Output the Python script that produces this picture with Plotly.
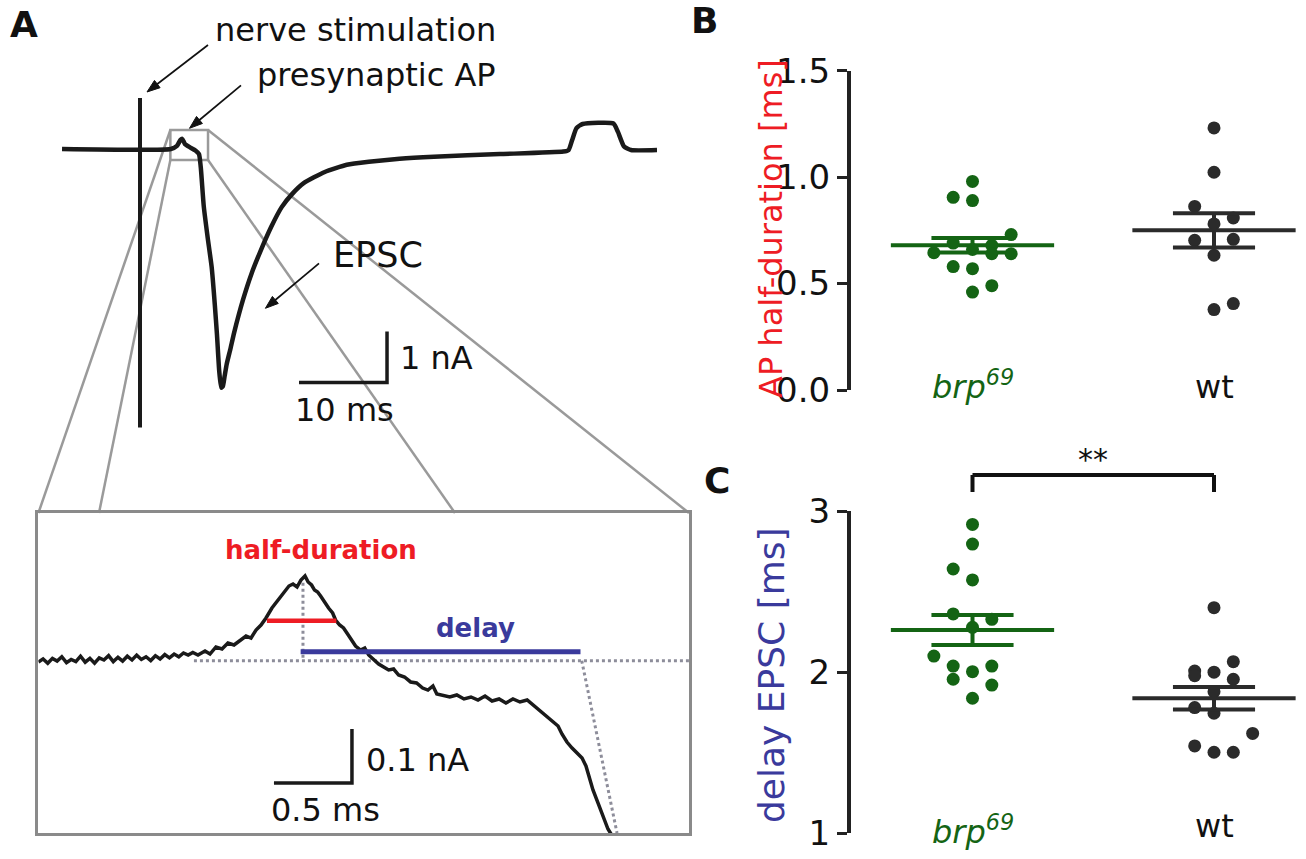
import math
import plotly.graph_objects as go

W, H = 1306, 859

# ---------------- Panel A: full recording (time in ms, current in nA) ----------------
a_t = [-8.86, 3.5, 4.2, 4.6, 4.8, 5.1, 5.6, 6.3, 6.7, 6.9, 7.25, 7.7, 8.14, 8.5, 8.75, 9.0,
       9.23, 9.42, 9.62, 9.85, 10.3, 10.7, 11.7, 12.7, 13.6, 14.9, 16.1, 17.3, 18.6, 21.0,
       23.5, 26.0, 29.5, 33.4, 40.9, 48.1, 48.7, 49.1, 49.6, 50.3, 53.8, 54.3, 55.0, 55.8, 58.75]
a_i = [0.0, 0.0, 0.06, 0.18, 0.20, 0.10, 0.04, -0.03, -0.10, -0.35, -1.13, -1.75, -2.31, -3.05, -3.65, -4.35,
       -4.68, -4.65, -4.45, -4.22, -3.90, -3.60, -2.96, -2.43, -2.04, -1.53, -1.14, -0.88, -0.67, -0.45,
       -0.31, -0.25, -0.19, -0.15, -0.10, -0.05, -0.02, 0.17, 0.41, 0.49, 0.50, 0.34, 0.05, -0.02, -0.02]
stim_t = [0.0, 0.0]
stim_i = [1.0, -5.46]
zoom_t = [3.45, 7.73]
zoom_i = [-0.216, 0.373]
scalebar_a = [10, 1]          # 10 ms, 1 nA

# ---------------- Inset: presynaptic AP (ms, nA) ----------------
ins_t = [0.00, 0.03, 0.06, 0.09, 0.12, 0.15, 0.18, 0.21, 0.24, 0.27, 0.30, 0.33, 0.36, 0.39, 0.42, 0.45,
         0.48, 0.51, 0.54, 0.57, 0.60, 0.63, 0.66, 0.69, 0.72, 0.75, 0.78, 0.81, 0.84, 0.87, 0.90, 0.93,
         0.96, 0.99,
         1.023, 1.068, 1.100, 1.138, 1.177, 1.215, 1.254, 1.292, 1.331, 1.363, 1.395, 1.427, 1.459, 1.497,
         1.536, 1.574, 1.606, 1.632, 1.658, 1.683, 1.709, 1.729, 1.751, 1.770, 1.790, 1.809, 1.835, 1.860,
         1.886, 1.905, 1.931, 1.956, 1.982, 2.008, 2.033, 2.065, 2.092, 2.117, 2.149, 2.181, 2.213, 2.245,
         2.277, 2.309, 2.347, 2.386, 2.424, 2.463, 2.497, 2.529, 2.554, 2.592, 2.637, 2.682, 2.728, 2.773,
         2.818, 2.863, 2.908, 2.953, 2.997, 3.042, 3.087, 3.133, 3.171, 3.203, 3.235, 3.267, 3.299, 3.331,
         3.356, 3.388, 3.421, 3.453, 3.485, 3.510, 3.530, 3.555, 3.587, 3.619, 3.651, 3.671]
ins_i = [-0.004, 0.002, -0.006, 0.003, -0.002, 0.006, -0.005, 0.001, -0.003, 0.007, -0.004, 0.003,
         -0.006, 0.004, 0.000, 0.008, -0.003, 0.005, -0.002, 0.007, 0.000, 0.009, 0.001, 0.006, -0.001,
         0.008, 0.002, 0.010, 0.004, 0.011, 0.006, 0.013, 0.009, 0.014,
         0.0093, 0.0167, 0.0111, 0.0241, 0.0204, 0.0315, 0.0278, 0.0370, 0.0444, 0.0407, 0.0556, 0.0648,
         0.0778, 0.0963, 0.1111, 0.1241, 0.1370, 0.1407, 0.1352, 0.1481, 0.1556, 0.1444, 0.1389, 0.1296,
         0.1259, 0.1185, 0.1056, 0.0963, 0.0870, 0.0741, 0.0648, 0.0593, 0.0481, 0.0370, 0.0259, 0.0185,
         0.0222, 0.0093, 0.0000, -0.0074, -0.0130, -0.0185, -0.0167, -0.0278, -0.0315, -0.0407, -0.0426,
         -0.0519, -0.0556, -0.0481, -0.0630, -0.0648, -0.0685, -0.0648, -0.0722, -0.0685, -0.0741, -0.0667,
         -0.0759, -0.0722, -0.0796, -0.0722, -0.0778, -0.0741, -0.0833, -0.0926, -0.1000, -0.1074, -0.1148,
         -0.1222, -0.1370, -0.1519, -0.1630, -0.1722, -0.1815, -0.1963, -0.2185, -0.2407, -0.2648, -0.2889,
         -0.3130, -0.3222]
baseline_level = -0.0013
ap_peak_t = 1.696
ap_peak_i = 0.143
half_duration = [1.465, 1.910, 0.0728]   # start, end, level
delay = [1.681, 3.475, 0.0154]           # start, end, level
epsc_onset = [3.483, 3.709, -0.3204]     # extrapolation line to bottom
scalebar_inset = [0.5, 0.1]              # 0.5 ms, 0.1 nA

# ---------------- Panel B: AP half-duration [ms] ----------------
groups = ["brp69", "wt"]
b_brp = [0.98, 0.905, 0.89, 0.73, 0.69, 0.68, 0.66, 0.645, 0.64, 0.64, 0.58, 0.57, 0.49, 0.46]
b_brp_col = [0, -1, 0, 2, -1, 1, 0, -2, 1, 2, -1, 0, 1, 0]
b_wt = [1.231, 1.023, 0.8625, 0.808, 0.78, 0.703, 0.708, 0.633, 0.406, 0.378]
b_wt_col = [0, 0, -1, 1, 0, -1, 1, 0, 1, 0]
b_mean = [0.68, 0.75]
b_sem = [0.034, 0.08]
b_ticks = [0.0, 0.5, 1.0, 1.5]

# ---------------- Panel C: delay EPSC [ms] ----------------
c_brp = [2.917, 2.795, 2.64, 2.572, 2.361, 2.328, 2.278, 2.10, 2.038, 2.038, 2.003, 1.956, 1.92, 1.838]
c_brp_col = [0, 0, -1, 0, -1, 1, 0, -2, -1, 1, 0, -1, 1, 0]
c_wt = [2.40, 2.065, 2.007, 1.978, 2.0, 1.956, 1.879, 1.78, 1.745, 1.62, 1.542, 1.503, 1.503]
c_wt_col = [0, 1, -1, -1, 0, 1, 0, -1, 0, 2, -1, 0, 1]
c_mean = [2.262, 1.838]
c_sem = [0.093, 0.07]
c_ticks = [1, 2, 3]
significance = "**"

# ---------------- styling ----------------
FONT = "DejaVu Sans"
GREEN = "#146414"
DARK = "#2b2b2b"
GRAY = "#9a9a9a"
DOTGRAY = "#8d8d9a"
RED = "#ee1c24"
BLUE = "#3a3a9c"

def dom_x(p0, p1):
    return [p0 / W, p1 / W]

def dom_y(top, bottom):
    return [1 - bottom / H, 1 - top / H]

def px(x):
    return x / W

def py(y):
    return 1 - y / H

A_X0, A_SX = 140.0, 8.8      # px at t=0, px per ms
A_Y0, A_SY = 149.0, 51.0     # px at I=0, px per nA
I_X0, I_SX = 38.4, 156.0
I_Y0, I_SY = 660.0, 540.0
JIT = 0.08
COLX = [972.5, 1214.0]
SX_BC = COLX[1] - COLX[0]

fig = go.Figure()

# --- Panel A traces
fig.add_trace(go.Scatter(x=stim_t, y=stim_i, mode="lines", line=dict(color="#1a1a1a", width=4),
                         xaxis="x", yaxis="y", hoverinfo="skip"))
fig.add_trace(go.Scatter(x=a_t, y=a_i, mode="lines", line=dict(color="#1a1a1a", width=4.5, shape="spline", smoothing=0.5),
                         xaxis="x", yaxis="y", hoverinfo="skip"))
sb_corner = (28.07, -4.58)
fig.add_trace(go.Scatter(x=[sb_corner[0] - scalebar_a[0], sb_corner[0], sb_corner[0]],
                         y=[sb_corner[1], sb_corner[1], sb_corner[1] + scalebar_a[1]],
                         mode="lines", line=dict(color="#1a1a1a", width=3.5), xaxis="x", yaxis="y", hoverinfo="skip"))

# --- Inset traces
t_end = 4.1705
fig.add_trace(go.Scatter(x=[0.997, t_end, None, ap_peak_t, ap_peak_t, None, epsc_onset[0], epsc_onset[1]],
                         y=[baseline_level, baseline_level, None, ap_peak_i, baseline_level, None, baseline_level, epsc_onset[2]],
                         mode="lines", line=dict(color=DOTGRAY, width=3, dash="dot"), xaxis="x2", yaxis="y2", hoverinfo="skip"))
fig.add_trace(go.Scatter(x=ins_t, y=ins_i, mode="lines", line=dict(color="#1a1a1a", width=3.5),
                         xaxis="x2", yaxis="y2", hoverinfo="skip"))
fig.add_trace(go.Scatter(x=half_duration[:2], y=[half_duration[2]] * 2, mode="lines",
                         line=dict(color=RED, width=4.5), xaxis="x2", yaxis="y2", hoverinfo="skip"))
fig.add_trace(go.Scatter(x=delay[:2], y=[delay[2]] * 2, mode="lines",
                         line=dict(color=BLUE, width=5), xaxis="x2", yaxis="y2", hoverinfo="skip"))
sbi = (2.010, -0.228)
fig.add_trace(go.Scatter(x=[sbi[0] - scalebar_inset[0], sbi[0], sbi[0]],
                         y=[sbi[1], sbi[1], sbi[1] + scalebar_inset[1]],
                         mode="lines", line=dict(color="#1a1a1a", width=3.5), xaxis="x2", yaxis="y2", hoverinfo="skip"))

# --- Scatter panels
def add_group(vals, cols, g, color, mean, sem, xa, ya):
    fig.add_trace(go.Scatter(x=[g + c * JIT for c in cols], y=vals, mode="markers",
                             marker=dict(size=13, color=color), xaxis=xa, yaxis=ya, hoverinfo="skip"))
    hw, sw = 0.338, 0.17
    fig.add_trace(go.Scatter(
        x=[g - hw, g + hw, None, g - sw, g + sw, None, g - sw, g + sw, None, g, g],
        y=[mean, mean, None, mean + sem, mean + sem, None, mean - sem, mean - sem, None, mean - sem, mean + sem],
        mode="lines", line=dict(color=color, width=4), xaxis=xa, yaxis=ya, hoverinfo="skip"))

add_group(b_brp, b_brp_col, 0, GREEN, b_mean[0], b_sem[0], "x3", "y3")
add_group(b_wt, b_wt_col, 1, DARK, b_mean[1], b_sem[1], "x3", "y3")
add_group(c_brp, c_brp_col, 0, GREEN, c_mean[0], c_sem[0], "x4", "y4")
add_group(c_wt, c_wt_col, 1, DARK, c_mean[1], c_sem[1], "x4", "y4")

hidden = dict(visible=False, showticklabels=False, ticks="", showline=False, showgrid=False, zeroline=False,
              fixedrange=True, automargin=False)
xr_bc = [(851 - COLX[0]) / SX_BC, (1300 - COLX[0]) / SX_BC]
yax_common = dict(showline=True, linecolor="#222222", linewidth=4, ticks="outside", ticklen=10, tickwidth=3,
                  tickcolor="#222222", showgrid=False, zeroline=False, automargin=False, fixedrange=True,
                  tickfont=dict(family=FONT, size=34, color="#111111"))
inset_ax = dict(showline=True, mirror=True, linecolor="#8a8a8a", linewidth=3, showticklabels=False, ticks="",
                showgrid=False, zeroline=False, fixedrange=True, automargin=False)

fig.update_layout(
    template="none",
    width=W, height=H, autosize=False,
    margin=dict(l=0, r=0, t=0, b=0, pad=0, autoexpand=False),
    paper_bgcolor="white", plot_bgcolor="rgba(0,0,0,0)",
    showlegend=False,
    xaxis=dict(domain=dom_x(40, 680), range=[(40 - A_X0) / A_SX, (680 - A_X0) / A_SX], **hidden),
    yaxis=dict(domain=dom_y(80, 440), range=[(A_Y0 - 440) / A_SY, (A_Y0 - 80) / A_SY], **hidden),
    xaxis2=dict(domain=dom_x(38.4, 689), range=[0, t_end], anchor="y2", **inset_ax),
    yaxis2=dict(domain=dom_y(513, 833), range=[(I_Y0 - 833) / I_SY, (I_Y0 - 513) / I_SY], anchor="x2", **inset_ax),
    xaxis3=dict(domain=dom_x(851, 1300), range=xr_bc, anchor="y3", **hidden),
    yaxis3=dict(domain=dom_y(70.7, 390), range=[0, 1.5], anchor="x3",
                tickvals=b_ticks, ticktext=["%.1f" % v for v in b_ticks], **yax_common),
    xaxis4=dict(domain=dom_x(851, 1300), range=xr_bc, anchor="y4", **hidden),
    yaxis4=dict(domain=dom_y(511, 833.3), range=[1, 3], anchor="x4",
                tickvals=c_ticks, ticktext=[str(v) for v in c_ticks], **yax_common),
)

# --- shapes: zoom window and projection lines
shapes = [dict(type="rect", xref="x", yref="y", x0=zoom_t[0], x1=zoom_t[1], y0=zoom_i[0], y1=zoom_i[1],
               line=dict(color=GRAY, width=2.5), layer="below")]
bl = (A_X0 + zoom_t[0] * A_SX, A_Y0 - zoom_i[0] * A_SY)
br = (A_X0 + zoom_t[1] * A_SX, A_Y0 - zoom_i[0] * A_SY)
tl = (A_X0 + zoom_t[0] * A_SX, A_Y0 - zoom_i[1] * A_SY)
tr = (A_X0 + zoom_t[1] * A_SX, A_Y0 - zoom_i[1] * A_SY)
for (sx, sy), ex in [(tl, 38.4), (bl, 99), (br, 455), (tr, 689)]:
    shapes.append(dict(type="line", xref="paper", yref="paper", x0=px(sx), y0=py(sy), x1=px(ex), y1=py(513),
                       line=dict(color=GRAY, width=2.5), layer="below"))
br_top, br_bot = py(475), py(492)
for x0, x1, y0, y1 in [(0, 0, br_bot, br_top), (0, 1, br_top, br_top), (1, 1, br_top, br_bot)]:
    shapes.append(dict(type="line", xref="x4", yref="paper", x0=x0, x1=x1, y0=y0, y1=y1,
                       line=dict(color="#111111", width=4)))

# pointer arrows (line + filled head), given as head / tail positions in pixels
for (hx, hy), (tx, ty) in [((147, 92), (208, 45)), ((189.5, 128.3), (241, 85.3)), ((265.4, 308.3), (319, 263.3))]:
    dx, dy = hx - tx, hy - ty
    d = math.hypot(dx, dy)
    ux, uy = dx / d, dy / d
    L, w = 13.0, 4.6
    bx, by = hx - ux * L, hy - uy * L
    nx, ny = -uy, ux
    shapes.append(dict(type="line", xref="paper", yref="paper", x0=px(tx), y0=py(ty), x1=px(bx + ux * 2), y1=py(by + uy * 2),
                       line=dict(color="#111111", width=1.7)))
    path = "M {:.5f},{:.5f} L {:.5f},{:.5f} L {:.5f},{:.5f} Z".format(
        px(hx), py(hy), px(bx + nx * w), py(by + ny * w), px(bx - nx * w), py(by - ny * w))
    shapes.append(dict(type="path", xref="paper", yref="paper", path=path,
                       fillcolor="#111111", line=dict(color="#111111", width=1)))
fig.update_layout(shapes=shapes)

# --- annotations
ann = []

def text(t, x, y, size=32, color="#111111", xanchor="center", bold=False, italic=False, angle=0, xref="paper"):
    ann.append(dict(text=t, x=x if xref != "paper" else px(x), y=py(y), xref=xref, yref="paper",
                    showarrow=False, xanchor=xanchor, yanchor="middle", textangle=angle,
                    font=dict(family=FONT, size=size, color=color,
                              weight="bold" if bold else "normal", style="italic" if italic else "normal")))

text("A", 24, 25, size=36, bold=True)
text("B", 704, 21, size=36, bold=True)
text("C", 717, 480, size=36, bold=True)
text("nerve stimulation", 213, 30, xanchor="left")
text("presynaptic AP", 255, 75, xanchor="left")
text("EPSC", 331, 255, size=35, xanchor="left")
text("1 nA", 398, 358, xanchor="left")
text("10 ms", 344, 410)
text("half-duration", 321, 550, size=26, color=RED, bold=True)
text("delay", 475, 628, size=26, color=BLUE, bold=True)
text("0.1 nA", 364, 760, xanchor="left")
text("0.5 ms", 325, 810)
text("AP half-duration [ms]", 771, 229, color=RED, angle=-90)
text("delay EPSC [ms]", 771, 675, size=36, color=BLUE, angle=-90)
text("brp<sup>69</sup>", 0, 385, color=GREEN, italic=True, xref="x3")
text("wt", 1, 387, xref="x3")
text("brp<sup>69</sup>", 0, 830, color=GREEN, italic=True, xref="x4")
text("wt", 1, 826, xref="x4")
text(significance, 0.5, 459, size=30, xref="x4")
fig.update_layout(annotations=ann)

fig.write_html("out.html", config={"displayModeBar": False, "staticPlot": True},
               post_script="document.body.style.margin='0px';")
